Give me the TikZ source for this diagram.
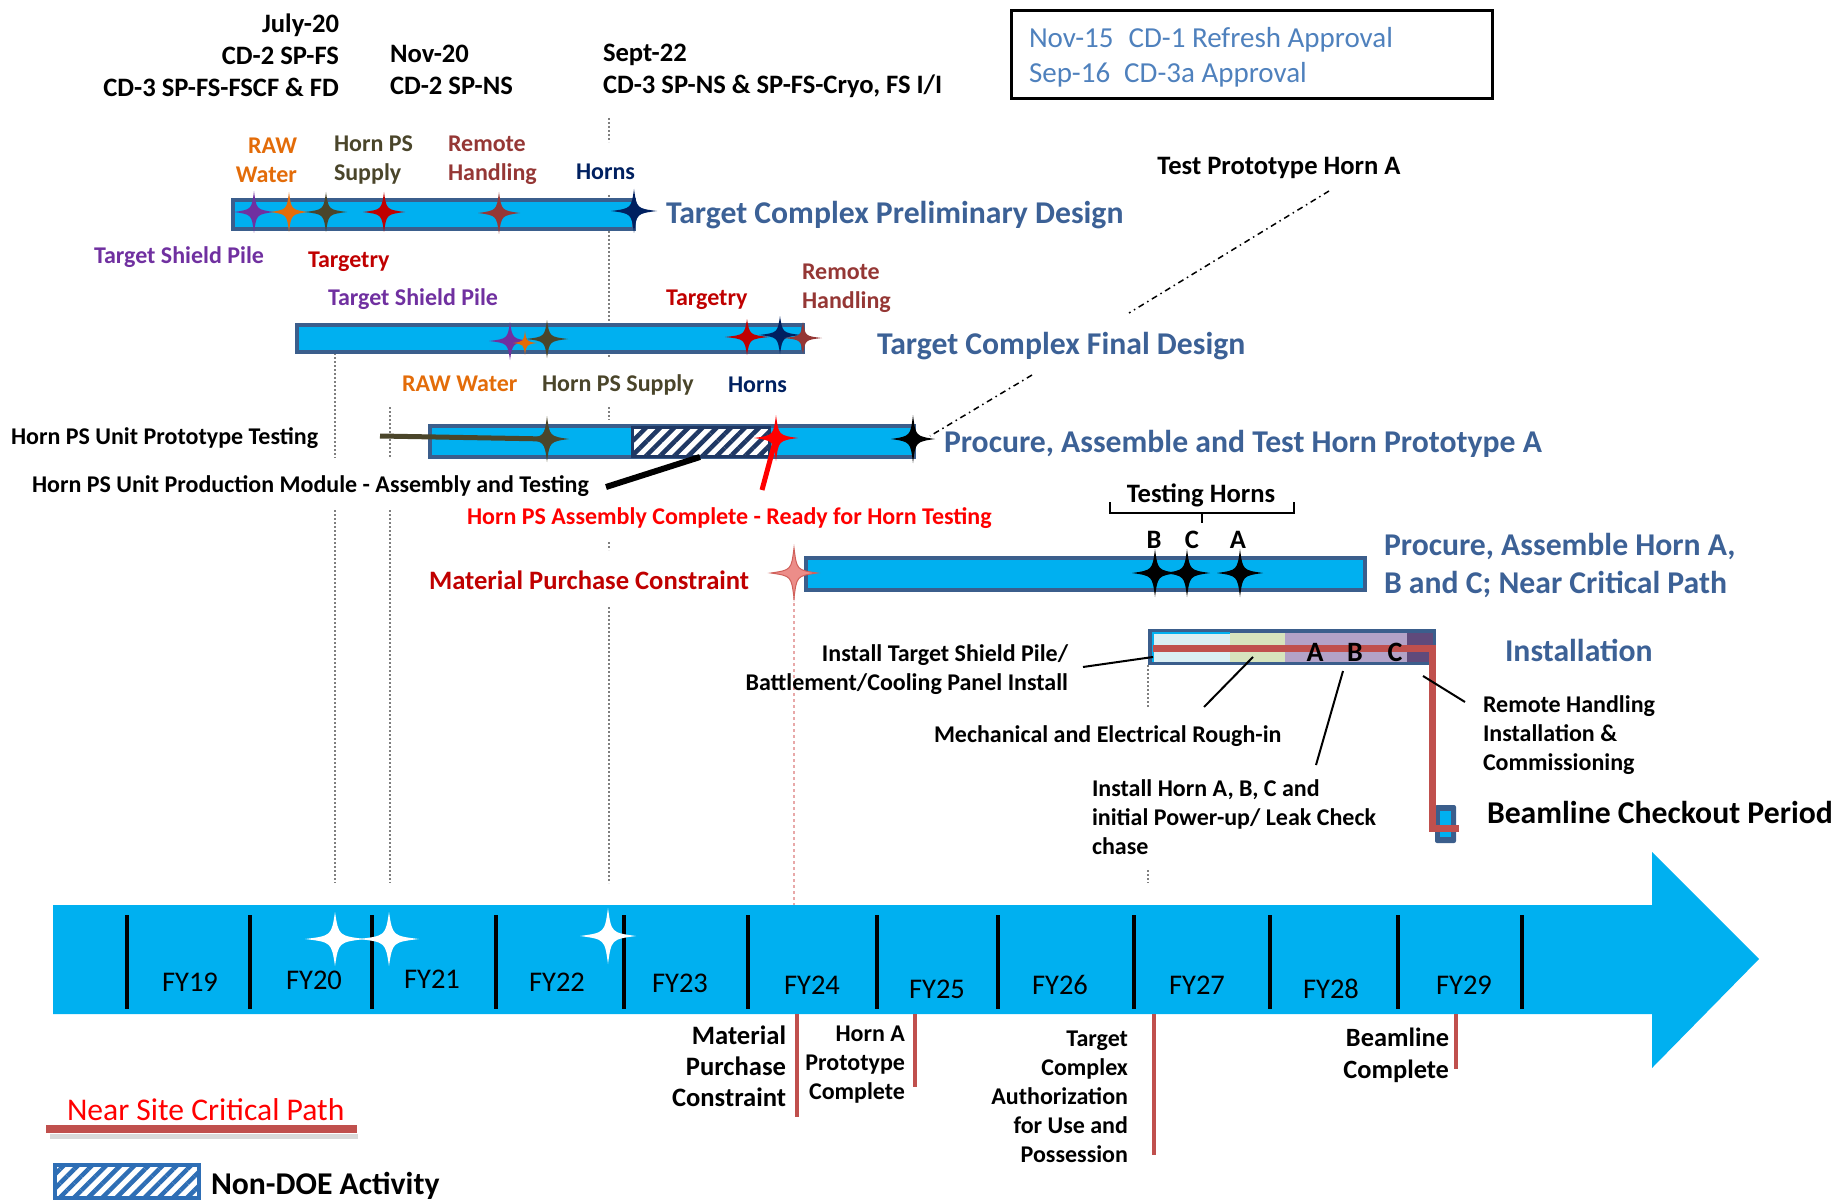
\documentclass[tikz,border=0pt]{standalone}
\usepackage{fontspec}
\setmainfont{Carlito}
\usetikzlibrary{patterns.meta}
\definecolor{barcyan}{HTML}{00B0F0}
\definecolor{barline}{HTML}{3B5E8C}
\definecolor{ttlblue}{HTML}{3C6196}
\definecolor{boxblue}{HTML}{4F81BD}
\definecolor{cpurple}{HTML}{7030A0}
\definecolor{corange}{HTML}{E36C09}
\definecolor{colive}{HTML}{4A452A}
\definecolor{cred}{HTML}{C00000}
\definecolor{cbrown}{HTML}{953735}
\definecolor{cnavy}{HTML}{002060}
\definecolor{brightred}{HTML}{FF0000}
\definecolor{critred}{HTML}{C0504D}
\definecolor{hatchnavy}{HTML}{1F3864}
\definecolor{legblue}{HTML}{2E6EB5}
\definecolor{gridgray}{HTML}{7F7F7F}
\definecolor{pinkline}{HTML}{E8A8A8}
\definecolor{pinkstar}{HTML}{EC8D89}
\definecolor{pinkedge}{HTML}{D0605A}
\definecolor{seglight}{HTML}{DAEEF3}
\definecolor{seggreen}{HTML}{D7E4BD}
\definecolor{seglav}{HTML}{B3A2C7}
\definecolor{segdark}{HTML}{604A7B}

\newcommand{\mystar}[4]{\pic[fill=#1, xscale=#2, yscale=#3] at #4 {star4};}

\begin{document}
\begin{tikzpicture}[x=1pt,y=-1pt,
  every node/.style={inner sep=0pt, outer sep=0pt},
  lbl/.style={font=\fontsize{24}{29}\selectfont\bfseries, yshift=-2.5pt},
  lblb/.style={font=\fontsize{26.6}{31}\selectfont\bfseries, yshift=-2.5pt},
  datelbl/.style={font=\fontsize{26.6}{32}\selectfont\bfseries, yshift=-2pt},
  ttl/.style={font=\fontsize{31.7}{38}\selectfont\bfseries, text=ttlblue, yshift=-2.5pt},
  fy/.style={font=\fontsize{28.5}{34}\selectfont},
  bar/.style={draw=barline, line width=4pt, fill=barcyan},
  grid/.style={gridgray, line width=2pt, dash pattern=on 2pt off 2pt},
  tick/.style={line width=4.5pt},
  crit/.style={critred, line width=4pt},
  ann/.style={line width=2pt},
  hatch/.style={pattern={Lines[angle=45,distance=10pt,line width=4.5pt]}},
  star4/.pic={\path[pic actions] (1,0) .. controls (0.12,0.12) .. (0,1)
     .. controls (-0.12,0.12) .. (-1,0) .. controls (-0.12,-0.12) .. (0,-1)
     .. controls (0.12,-0.12) .. (1,0) -- cycle;}
]
\useasboundingbox (0,0) rectangle (1839,1201);

% ---------- dotted guide lines ----------
\draw[grid] (335,353) -- (335,458) (335,510) -- (335,883);
\draw[grid] (390,407) -- (390,458) (390,510) -- (390,883);
\draw[grid] (609,118) -- (609,142) (609,195) -- (609,357) (609,407) -- (609,420)
            (609,542) -- (609,550) (609,607) -- (609,883);
\draw[grid] (1148,665) -- (1148,708) (1148,870) -- (1148,883);
\draw[pinkline, line width=1.5pt, dash pattern=on 3pt off 3pt] (794,597) -- (794,915);

% ---------- milestone dates ----------
\node[datelbl, align=right, anchor=east] (d1) at (339,53.5) {July-20\\CD-2 SP-FS\\CD-3 SP-FS-FSCF \& FD};
\node[datelbl, align=left, anchor=west] (d2) at (390,67.5) {Nov-20\\CD-2 SP-NS};
\node[datelbl, align=left, anchor=west] (d3) at (603,69) {Sept-22\\CD-3 SP-NS \& SP-FS-Cryo, FS I/I};

% ---------- approval box ----------
\node[draw=black, line width=3pt, minimum width=481pt, minimum height=88pt] (cdbox) at (1252,54.5) {};
\node[font=\fontsize{29}{35}\selectfont, text=boxblue, align=left, anchor=west, yshift=-2pt] (cdtxt) at (1029,55.5)
  {Nov-15\hspace{15pt}CD-1 Refresh Approval\\Sep-16\hspace{14pt}CD-3a Approval};

% ---------- Target Complex Preliminary Design ----------
\node[bar, minimum width=401pt, minimum height=29pt] (bar1) at (433.5,214.5) {};
\node[ttl, anchor=west] (t1) at (666,213) {Target Complex Preliminary Design};
\node[lbl, text=corange, align=right, anchor=east] (b1raw) at (297,158) {RAW\\Water};
\node[lbl, text=colive, align=left, anchor=west] (b1hps) at (334,158) {Horn PS\\Supply};
\node[lbl, text=cbrown, align=left, anchor=west] (b1rh) at (448,158) {Remote\\Handling};
\node[lbl, text=cnavy, anchor=west] (b1horns) at (576,169) {Horns};
\node[lbl, text=cpurple, anchor=west] (b1tsp) at (94,255) {Target Shield Pile};
\node[lbl, text=cred, anchor=west] (b1tgt) at (308,259) {Targetry};
\mystar{cpurple}{20}{21}{(254,212)}
\mystar{corange}{19}{20}{(289,212)}
\mystar{colive}{21}{20}{(326,212)}
\mystar{cred}{21}{20}{(384,212)}
\mystar{cbrown}{21}{21}{(499,213)}
\mystar{cnavy}{23}{22}{(634,211)}

% ---------- Target Complex Final Design ----------
\node[bar, minimum width=506pt, minimum height=27pt] (bar2) at (550,338.5) {};
\node[ttl, anchor=west] (t2) at (877,344) {Target Complex Final Design};
\node[lbl, text=cpurple, anchor=west] (b2tsp) at (328,297) {Target Shield Pile};
\node[lbl, text=cred, anchor=west] (b2tgt) at (666,297) {Targetry};
\node[lbl, text=cbrown, align=left, anchor=west] (b2rh) at (802,285.5) {Remote\\Handling};
\node[lbl, text=corange, anchor=west] (b2raw) at (402,381) {RAW Water};
\node[lbl, text=colive, anchor=west] (b2hps) at (542,382) {Horn PS Supply};
\node[lbl, text=cnavy, anchor=west] (b2horns) at (728,382) {Horns};
\mystar{cpurple}{21}{19}{(510,341)}
\mystar{corange}{12}{12}{(525,343)}
\mystar{colive}{21}{19}{(547,339)}
\mystar{cred}{22}{18}{(747,337)}
\mystar{cnavy}{21}{19}{(780,335)}
\mystar{cbrown}{19}{16}{(803,338)}

% ---------- Test Prototype Horn A (dash-dot pointer) ----------
\node[lblb, anchor=center] (tpha) at (1279,165) {Test Prototype Horn A};
\coordinate (tpA) at (1329,191);
\coordinate (tpB) at (1129,313);
\coordinate (tpC) at (1032,375);
\coordinate (tpD) at (930,436);
\draw[line width=1.5pt, dash pattern=on 6pt off 4pt on 1.5pt off 4pt] (tpA) -- (tpB) (tpC) -- (tpD);

% ---------- Procure, Assemble and Test Horn Prototype A ----------
\node[bar, minimum width=484pt, minimum height=31pt] (bar3) at (672,441.5) {};
\node[draw=hatchnavy, line width=3pt, preaction={fill=white}, hatch, pattern color=hatchnavy,
      minimum width=137pt, minimum height=29pt] (nondoe) at (701,442) {};
\node[ttl, anchor=west] (t3) at (944,441) {Procure, Assemble and Test Horn Prototype A};
\node[lbl, anchor=west] (ptest) at (11,436) {Horn PS Unit Prototype Testing};
\node[lbl, anchor=west] (pprod) at (32,484) {Horn PS Unit Production Module - Assembly and Testing};
\node[lbl, text=brightred, anchor=west] (pready) at (467,516) {Horn PS Assembly Complete - Ready for Horn Testing};
\coordinate (olivestar) at (547,439);
\coordinate (redstar) at (776,438);
\coordinate (blackstar) at (913,439);
\coordinate (ptestend) at (380,436);
\coordinate (pprodend) at (606,487);
\coordinate (hatchpt) at (700,457);
\coordinate (readyend) at (762,490);
\draw[colive, line width=5pt] (ptestend) -- (olivestar);
\draw[line width=6pt] (pprodend) -- (hatchpt);
\draw[brightred, line width=5pt] (readyend) -- (redstar);
\mystar{colive}{22}{23}{(olivestar)}
\mystar{brightred}{22}{23}{(redstar)}
\mystar{black}{22}{24}{(blackstar)}

% ---------- Procure, Assemble Horn A, B and C ----------
\node[bar, minimum width=559pt, minimum height=32pt] (bar4) at (1085.5,574) {};
\node[ttl, align=left, anchor=west] (t4) at (1384,563.5) {Procure, Assemble Horn A,\\B and C; Near Critical Path};
\node[lblb, anchor=center] (testh) at (1201,493) {Testing Horns};
\draw[ann] (1110,502) -- (1110,513) -- (1294,513) -- (1294,502) (1202,513) -- (1202,523);
\node[lblb, anchor=center] (lb) at (1154,537) {B};
\node[lblb, anchor=center] (lc) at (1192,537) {C};
\node[lblb, anchor=center] (la) at (1238,537) {A};
\mystar{black}{23}{24}{(1155,573)}
\mystar{black}{23}{24}{(1187,573)}
\mystar{black}{23}{24}{(1240,573)}
\node[lblb, text=cred, anchor=west] (mpc) at (429,578) {Material Purchase Constraint};
\pic[fill=pinkstar, draw=pinkedge, line width=1pt, xscale=23, yscale=25] at (794,573) {star4};

% ---------- Installation ----------
\node[fill=barline, minimum width=288pt, minimum height=36pt] (inst) at (1292,647) {};
\fill[seglight] (1153,633) rectangle (1230,662);
\draw[barcyan, line width=1.5pt] (1153,662) -- (1153,633) -- (1230,633);
\fill[seggreen] (1230,633) rectangle (1285,662);
\fill[seglav] (1285,633) rectangle (1407,662);
\fill[segdark] (1407,633) rectangle (1433,662);
\node[ttl, anchor=west] (t5) at (1505,648) {Installation};
\node[fill=barline, minimum width=21pt, minimum height=38pt, rounded corners=2pt] (bcbox) at (1445.5,824) {};
\fill[barcyan] (1440,811) rectangle (1451,837);
\draw[critred, line width=7pt] (1153,648) -- (1432,648) -- (1432,828) -- (1459,828);
\node[font=\fontsize{28}{34}\selectfont\bfseries, yshift=-2pt] (ia) at (1315,650) {A};
\node[font=\fontsize{28}{34}\selectfont\bfseries, yshift=-2pt] (ib) at (1355,650) {B};
\node[font=\fontsize{28}{34}\selectfont\bfseries, yshift=-2pt] (ic) at (1395,650) {C};
\node[font=\fontsize{31.7}{38}\selectfont\bfseries, anchor=west, yshift=-2pt] (bcp) at (1487,810) {Beamline Checkout Period};

\node[lbl, align=right, anchor=east] (itsp) at (1068,667.5) {Install Target Shield Pile/\\Battlement/Cooling Panel Install};
\node[lbl, anchor=west] (imech) at (934,734) {Mechanical and Electrical Rough-in};
\node[lbl, align=left, anchor=west] (ihorn) at (1092,815) {Install Horn A, B, C and\\initial Power-up/ Leak Check\\chase};
\node[lbl, align=left, anchor=west] (irh) at (1483,732.5) {Remote Handling\\Installation \&\\Commissioning};
\coordinate (itspA) at (1083,667);
\coordinate (itspB) at (1153,657);
\coordinate (imechA) at (1204,707);
\coordinate (imechB) at (1253,657);
\coordinate (ihornA) at (1316,765);
\coordinate (ihornB) at (1343,671);
\coordinate (irhA) at (1465,702);
\coordinate (irhB) at (1423,676);
\draw[ann] (itspA) -- (itspB);
\draw[ann] (imechA) -- (imechB);
\draw[ann] (ihornA) -- (ihornB);
\draw[ann] (irhA) -- (irhB);

% ---------- fiscal-year timeline ----------
\fill[barcyan] (53,905) -- (1652,905) -- (1652,852) -- (1759,959) -- (1652,1068)
               -- (1652,1014) -- (53,1014) -- cycle;
\foreach \tx in {127,250,372,496,624,748,877,998,1134,1270,1398,1522}
  \draw[tick] (\tx,915) -- (\tx,1009);
\foreach \fx/\fyy/\lab in {190/982/FY19, 314/980/FY20, 432/979/FY21, 557/982/FY22,
    680/983/FY23, 812/985/FY24, 937/989/FY25, 1060/985/FY26, 1197/985/FY27,
    1331/989/FY28, 1464/985/FY29}
  \node[fy] (\lab) at (\fx,\fyy) {\lab};
\mystar{white}{30}{27}{(335,939)}
\mystar{white}{30}{27}{(389,939)}
\mystar{white}{28}{28}{(608,936)}

\draw[crit] (797,1014) -- (797,1117);
\draw[crit] (915,1014) -- (915,1087);
\draw[crit] (1154,1014) -- (1154,1155);
\draw[crit] (1456,1014) -- (1456,1069);
\node[lblb, align=right, anchor=east] (ax1) at (786,1064) {Material\\Purchase\\Constraint};
\node[lbl, align=right, anchor=east] (ax2) at (905,1062.5) {Horn A\\Prototype\\Complete};
\node[lbl, align=right, anchor=east] (ax3) at (1128,1094) {Target\\Complex\\Authorization\\for Use and\\Possession};
\node[font=\fontsize{26.4}{32}\selectfont\bfseries, align=right, anchor=east, yshift=-2pt] (ax4) at (1449,1053) {Beamline\\Complete};

% ---------- legend ----------
\node[font=\fontsize{31.6}{38}\selectfont, text=brightred, anchor=west, yshift=-2pt] (legcp) at (67,1108) {Near Site Critical Path};
\draw[black!15, line width=5pt] (50,1136) -- (358,1136);
\draw[critred, line width=8pt] (46,1129) -- (357,1129);
\node[draw=legblue, line width=4pt, preaction={fill=white}, hatch, pattern color=legblue,
      minimum width=144pt, minimum height=33pt] (legbox) at (127,1181.5) {};
\node[font=\fontsize{31.7}{38}\selectfont\bfseries, anchor=west, yshift=-2pt] (legnd) at (211,1184) {Non-DOE Activity};
\end{tikzpicture}
\end{document}
